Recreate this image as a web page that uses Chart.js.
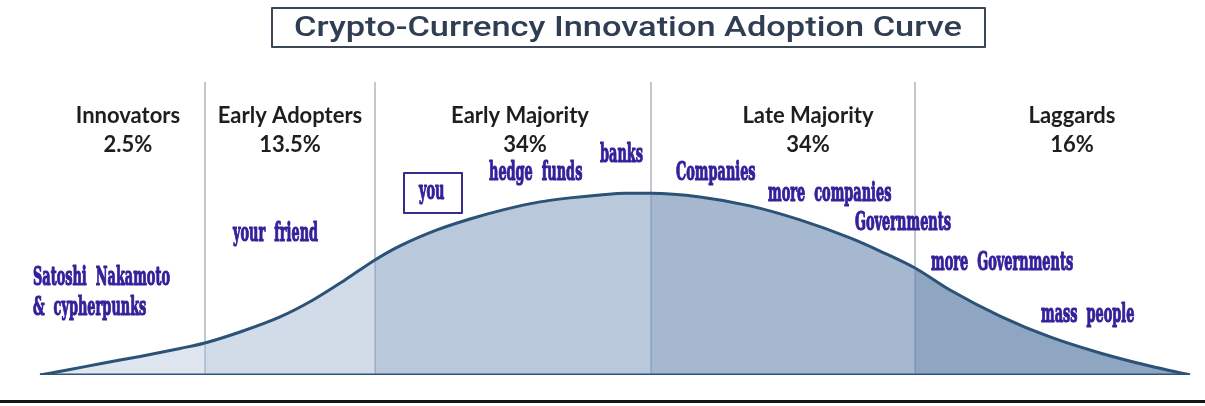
<!DOCTYPE html>
<html>
<head>
<meta charset="utf-8">
<script src="https://cdn.jsdelivr.net/npm/chart.js@4.4.1/dist/chart.umd.min.js"></script>
<style>
    html, body { margin: 0; padding: 0; background: #fff; }
    #wrap { width: 1205px; height: 406px; }
</style>
</head>
<body>
<div id="wrap"><canvas id="adoption" width="1205" height="406"></canvas></div>
<script>
// Curve: position along the axis, height in % of the peak.
const curveX = [40, 70, 100, 140, 180, 205, 240, 280, 313, 345, 375, 400, 437, 470, 503, 540, 570, 600, 625, 651, 700, 750, 800, 850, 880, 915, 950, 1000, 1050, 1100, 1150, 1190];
const curveY = [0, 3.0, 6.2, 10.2, 14.6, 17.6, 23.6, 31.9, 41.2, 52.2, 63.2, 70.9, 79.7, 85.7, 90.7, 95.1, 97.3, 98.9, 99.8, 99.8, 97.8, 92.9, 85.2, 75.3, 68.1, 58.8, 46.7, 32.4, 20.9, 12.1, 4.9, 0];

// Segment boundaries (start, dividers, end)
const bounds = [40, 205, 375, 651, 915, 1190];
const groups = ["Innovators", "Early Adopters", "Early Majority", "Late Majority", "Laggards"];
const shares = ["2.5%", "13.5%", "34%", "34%", "16%"];

const chartTitle = "Crypto-Currency Innovation Adoption Curve";

const regionColors = ["#dfe6ef", "#d2dce8", "#b9c8da", "#a6b8cf", "#8fa6c3"];
const labelPos = [128, 290, 520, 808, 1072];

// text notes: x = left edge, y = baseline
const notes = [
    { text: "Satoshi  Nakamoto", x: 33, y: 285 },
    { text: "&  cypherpunks", x: 33, y: 315 },
    { text: "your  friend", x: 233, y: 241 },
    { text: "you", x: 419, y: 199, box: [404, 173, 58, 40] },
    { text: "hedge  funds", x: 489, y: 180 },
    { text: "banks", x: 600, y: 162 },
    { text: "Companies", x: 676, y: 180 },
    { text: "more  companies", x: 768, y: 201 },
    { text: "Governments", x: 855, y: 230 },
    { text: "more  Governments", x: 931, y: 270 },
    { text: "mass  people", x: 1041, y: 322 }
];

const points = curveX.map((x, i) => ({ x: x, y: curveY[i] }));

const datasets = [];
for (let i = 0; i < groups.length; i++) {
    datasets.push({
        label: groups[i],
        data: points.filter(p => p.x >= bounds[i] && p.x <= bounds[i + 1]),
        backgroundColor: regionColors[i],
        borderWidth: 0,
        fill: "origin",
        pointRadius: 0,
        cubicInterpolationMode: "monotone",
        order: 2
    });
}
datasets.push({
    label: "curve",
    data: points,
    borderColor: "#2b5277",
    borderWidth: 3,
    fill: false,
    pointRadius: 0,
    cubicInterpolationMode: "monotone",
    order: 0
});
datasets.push({
    label: "base",
    data: [{ x: bounds[0], y: 0 }, { x: bounds[bounds.length - 1], y: 0 }],
    borderColor: "#2f5479",
    borderWidth: 3,
    fill: false,
    pointRadius: 0,
    order: 1
});

const decor = {
    id: "decor",
    beforeDraw(chart) {
        const ctx = chart.ctx;
        ctx.save();
        ctx.fillStyle = "#ffffff";
        ctx.fillRect(0, 0, chart.width, chart.height);
        ctx.restore();
    },
    beforeDatasetsDraw(chart) {
        // dividers above the curve (light grey)
        const ctx = chart.ctx;
        const xs = chart.scales.x;
        const ys = chart.scales.y;
        ctx.save();
        ctx.strokeStyle = "#c3c8ce";
        ctx.lineWidth = 2;
        for (let i = 1; i < bounds.length - 1; i++) {
            const px = Math.round(xs.getPixelForValue(bounds[i]));
            ctx.beginPath();
            ctx.moveTo(px, 82);
            ctx.lineTo(px, ys.getPixelForValue(0));
            ctx.stroke();
        }
        ctx.restore();
    },
    afterDatasetsDraw(chart) {
        const ctx = chart.ctx;
        const xs = chart.scales.x;
        const ys = chart.scales.y;
        ctx.save();

        // dividers inside the filled area
        ctx.strokeStyle = "rgba(80,105,140,0.35)";
        ctx.lineWidth = 1.5;
        for (let i = 1; i < bounds.length - 1; i++) {
            const px = Math.round(xs.getPixelForValue(bounds[i]));
            const idx = curveX.indexOf(bounds[i]);
            ctx.beginPath();
            ctx.moveTo(px, ys.getPixelForValue(curveY[idx]) + 2);
            ctx.lineTo(px, ys.getPixelForValue(0) - 1);
            ctx.stroke();
        }

        // group names + shares
        ctx.fillStyle = "#1e1e1e";
        ctx.textAlign = "center";
        ctx.textBaseline = "middle";
        ctx.font = "bold 22px Lato";
        groups.forEach((g, i) => {
            ctx.fillText(g, labelPos[i], 116);
            ctx.fillText(shares[i], labelPos[i] + (i === 2 ? 5 : 0), 145);
        });

        // notes in condensed heavy type
        ctx.fillStyle = "#34209a";
        ctx.strokeStyle = "#34209a";
        ctx.lineWidth = 1.1;
        ctx.lineJoin = "round";
        ctx.textAlign = "left";
        ctx.textBaseline = "alphabetic";
        ctx.font = "bold 23px 'DejaVu Serif'";
        const squeeze = 137 / ctx.measureText("Satoshi  Nakamoto").width;
        notes.forEach(n => {
            ctx.save();
            ctx.translate(n.x, n.y);
            ctx.scale(squeeze, 1.12);
            ctx.fillText(n.text, 0, 0);
            ctx.strokeText(n.text, 0, 0);
            ctx.restore();
            if (n.box) {
                ctx.save();
                ctx.strokeStyle = "#3a2a8a";
                ctx.lineWidth = 2;
                ctx.strokeRect(n.box[0], n.box[1], n.box[2], n.box[3]);
                ctx.restore();
            }
        });

        // title box
        ctx.strokeStyle = "#3b4756";
        ctx.lineWidth = 2;
        ctx.strokeRect(272, 8, 713, 39);
        ctx.fillStyle = "#2f3e52";
        ctx.textAlign = "center";
        ctx.textBaseline = "middle";
        ctx.font = "500 27px Roboto";
        const tw = ctx.measureText(chartTitle).width;
        ctx.save();
        ctx.translate(628, 29);
        ctx.scale(668 / tw, 1);
        ctx.fillText(chartTitle, 0, 0);
        ctx.restore();

        // bottom rule
        ctx.fillStyle = "#161616";
        ctx.fillRect(0, 400, chart.width, 3);

        ctx.restore();
    }
};

new Chart(document.getElementById("adoption"), {
    type: "line",
    data: { datasets: datasets },
    options: {
        responsive: false,
        animation: false,
        layout: { padding: { top: 0, bottom: 31, left: 0, right: 0 } },
        plugins: {
            legend: { display: false },
            tooltip: { enabled: false },
            title: { display: false }
        },
        scales: {
            x: { type: "linear", min: 0, max: 1205, display: false },
            y: { min: 0, max: 206, display: false }
        }
    },
    plugins: [decor]
});
</script>
</body>
</html>
